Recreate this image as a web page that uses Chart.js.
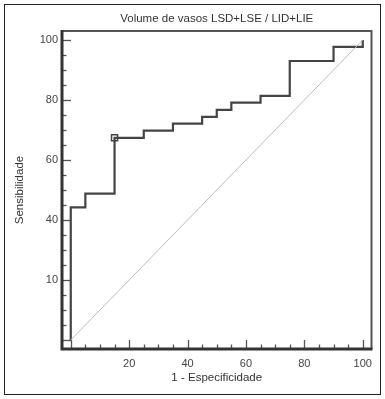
<!DOCTYPE html>
<html>
<head>
<meta charset="utf-8">
<script src="https://cdn.jsdelivr.net/npm/chart.js@4/dist/chart.umd.min.js"></script>
<style>
  html, body { margin: 0; padding: 0; background: #fff; }
  #wrap { position: relative; width: 385px; height: 399px; }
  #frame { position: absolute; left: 4px; top: 4px; width: 375px; height: 389px; border: 1px solid #222; pointer-events: none; }
  canvas { position: absolute; left: 0; top: 0; }
</style>
</head>
<body>
<div id="wrap">
  <canvas id="c" width="385" height="399"></canvas>
  <div id="frame"></div>
</div>
<script>
// ROC curve points (1 - specificity, sensitivity), in %
const fpr = [0, 0, 5, 15, 25, 35, 45, 50, 55, 65, 75, 90, 100];
const tpr = [0, 44.2, 48.8, 67.4, 69.8, 72.1, 74.4, 76.7, 79.1, 81.4, 93.0, 97.7, 100];
// optimal criterion marker
const markerX = [15];
const markerY = [67.4];
// reference diagonal
const diagX = [0, 100];
const diagY = [0, 100];
// axis ticks
const xTickValues = [20, 40, 60, 80, 100];
const xTickLabels = ['20', '40', '60', '80', '100'];
const yTickValues = [20, 40, 60, 80, 100];
const yTickLabels = ['10', '40', '60', '80', '100'];
const minorTickValues = [0, 5, 10, 15, 20, 25, 30, 35, 40, 45, 50, 55, 60, 65, 70, 75, 80, 85, 90, 95, 100];
const majorEvery = 20;
const chartTitle = 'Volume de vasos LSD+LSE / LID+LIE';

const FONT = "'Liberation Sans', Arial, sans-serif";
const toPts = (xs, ys) => xs.map((x, i) => ({ x: x, y: ys[i] }));

const frameAndTicks = {
  id: 'frameAndTicks',
  beforeDatasetsDraw(chart) {
    const { ctx, chartArea: a, scales: { x, y } } = chart;
    ctx.save();
    ctx.strokeStyle = '#555';
    ctx.lineWidth = 1.3;
    minorTickValues.forEach(v => {
      const len = v % majorEvery === 0 ? 9 : 4.5;
      const px = Math.round(x.getPixelForValue(v)) + 0.5;
      ctx.beginPath(); ctx.moveTo(px, a.bottom); ctx.lineTo(px, a.bottom - len); ctx.stroke();
      const py = Math.round(y.getPixelForValue(v)) + 0.5;
      ctx.beginPath(); ctx.moveTo(a.left, py); ctx.lineTo(a.left + len, py); ctx.stroke();
    });
    ctx.restore();
  },
  afterDraw(chart) {
    const { ctx, chartArea: a } = chart;
    ctx.save();
    ctx.strokeStyle = '#555';
    ctx.lineWidth = 2;
    ctx.beginPath();
    ctx.moveTo(a.left, a.top);
    ctx.lineTo(a.right, a.top);
    ctx.lineTo(a.right, a.bottom);
    ctx.stroke();
    ctx.strokeStyle = '#333';
    ctx.lineWidth = 3;
    ctx.beginPath();
    ctx.moveTo(a.left, a.top - 1);
    ctx.lineTo(a.left, a.bottom);
    ctx.lineTo(a.right + 1, a.bottom);
    ctx.stroke();
    // title centred over the plot area
    ctx.fillStyle = '#333';
    ctx.font = '11.5px ' + FONT;
    ctx.textAlign = 'center';
    ctx.textBaseline = 'middle';
    ctx.fillText(chartTitle, (a.left + a.right) / 2, a.top - 12.5);
    ctx.restore();
  }
};

new Chart(document.getElementById('c'), {
  type: 'line',
  data: {
    datasets: [
      {
        label: 'Diagonal',
        data: toPts(diagX, diagY),
        borderColor: '#bdbdbd',
        borderWidth: 1,
        pointRadius: 0,
        fill: false
      },
      {
        label: 'ROC',
        data: toPts(fpr, tpr),
        borderColor: '#444',
        borderWidth: 2.2,
        stepped: 'before',
        pointRadius: 0,
        fill: false
      },
      {
        label: 'Criterion',
        data: toPts(markerX, markerY),
        showLine: false,
        pointStyle: 'rect',
        pointRadius: 4.3,
        pointBackgroundColor: '#fff',
        pointBorderColor: '#444',
        pointBorderWidth: 1.5
      }
    ]
  },
  options: {
    responsive: false,
    devicePixelRatio: 1,
    animation: false,
    layout: { padding: { left: 0, right: 13.5, top: 31, bottom: 0 } },
    plugins: {
      legend: { display: false },
      tooltip: { enabled: false },
      title: { display: false }
    },
    scales: {
      x: {
        type: 'linear',
        min: -3,
        max: 103,
        afterFit: s => { s.height = 50; },
        afterBuildTicks: s => { s.ticks = xTickValues.map(v => ({ value: v })); },
        grid: { display: false, drawTicks: false },
        border: { display: false },
        ticks: {
          color: '#444',
          font: { family: FONT, size: 11 },
          padding: 8,
          maxRotation: 0,
          callback: v => { const i = xTickValues.indexOf(v); return i >= 0 ? xTickLabels[i] : ''; }
        },
        title: {
          display: true,
          text: '1 - Especificidade',
          color: '#333',
          font: { family: FONT, size: 11.5 },
          padding: { top: 0, bottom: 14.4 }
        }
      },
      y: {
        type: 'linear',
        min: -3,
        max: 103,
        afterFit: s => { s.width = 62; },
        afterBuildTicks: s => { s.ticks = yTickValues.map(v => ({ value: v })); },
        grid: { display: false, drawTicks: false },
        border: { display: false },
        ticks: {
          color: '#444',
          font: { family: FONT, size: 11 },
          padding: 4,
          callback: v => { const i = yTickValues.indexOf(v); return i >= 0 ? yTickLabels[i] : ''; }
        },
        title: {
          display: true,
          text: 'Sensibilidade',
          color: '#333',
          font: { family: FONT, size: 11.5 },
          padding: { top: 13, bottom: 0 }
        }
      }
    }
  },
  plugins: [frameAndTicks]
});
</script>
</body>
</html>
